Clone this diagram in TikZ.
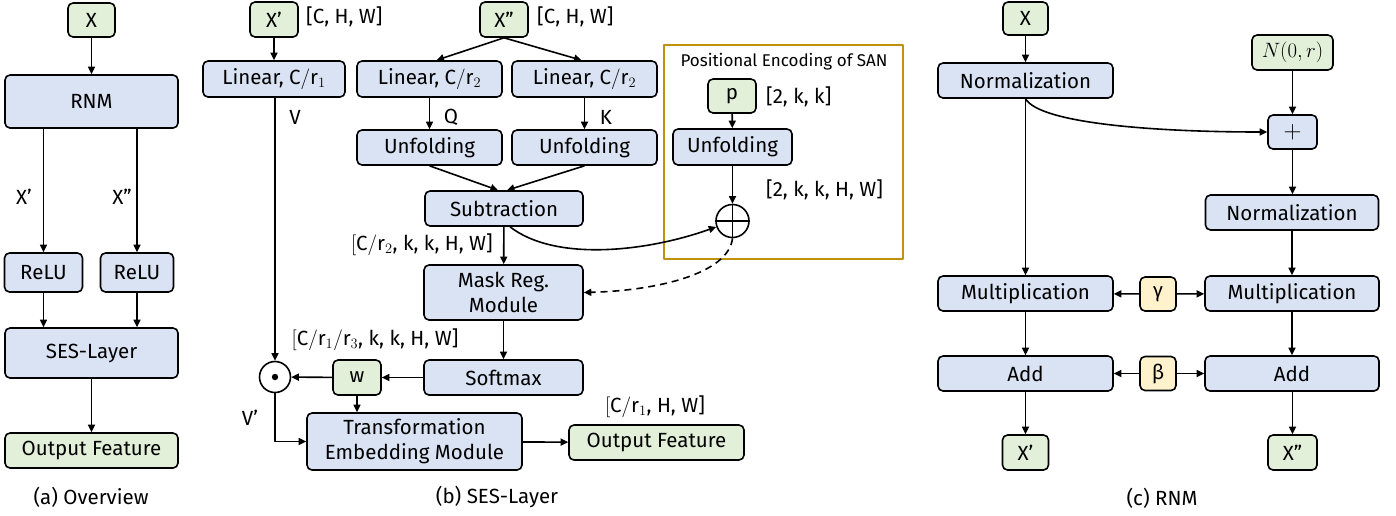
\documentclass[tikz,border=0pt]{standalone}
\usepackage{fontspec}
\setmainfont{Fira Sans}
\usetikzlibrary{arrows.meta,calc}
\definecolor{boxblue}{HTML}{DAE3F3}
\definecolor{boxgreen}{HTML}{E2F0D9}
\definecolor{boxyellow}{HTML}{FFF2CC}
\definecolor{goldframe}{RGB}{191,146,10}
\newcommand\myap{\symbol{39}}
\newcommand\mydq{\symbol{34}}
\newcommand\chred[1]{\mathrm{C}/\mathrm{r}_{#1}}
\newcommand\mainsize{\fontsize{20.5}{25}\selectfont}
\begin{document}
\begin{tikzpicture}[x=1pt, y=-1pt, line join=round,
  txt/.style={font=\mainsize, inner sep=1pt},
  base/.style={draw, line width=1.6pt, rounded corners=5pt, inner sep=1pt,
    align=center, font=\mainsize},
  bbox/.style={base, fill=boxblue},
  gbox/.style={base, fill=boxgreen},
  ybox/.style={base, fill=boxyellow},
  sz/.style 2 args={minimum width=#1, minimum height=#2},
  arr/.style={line width=1.6pt, -{Triangle[length=7.5pt,width=7pt]}},
  opcirc/.style={draw, circle, line width=1.6pt, minimum size=#1, inner sep=0pt}]
\useasboundingbox (0,0) rectangle (1396,515);

% ---------------- (a) Overview ----------------
\node[gbox, sz={47pt}{34pt}] (aX) at (91.5,20) {X};
\node[bbox, sz={173pt}{53pt}] (rnm) at (91.5,101.5) {RNM};
\node[bbox, sz={78pt}{39pt}] (relu1) at (43.5,272.5) {ReLU};
\node[bbox, sz={73pt}{39pt}] (relu2) at (137,272.5) {ReLU};
\node[bbox, sz={173pt}{50pt}] (ses) at (91.5,353) {SES-Layer};
\node[gbox, sz={173pt}{35pt}] (aout) at (91.5,450.5) {Output Feature};
\node[txt] (lx1) at (24,197) {X\myap};
\node[txt] (lx2) at (122,197) {X\mydq};
\node[txt] (capa) at (91,497) {(a) Overview};
\draw[arr] (aX) -- (rnm);
\draw[arr] (relu1.north |- rnm.south) -- (relu1.north);
\draw[arr] (relu2.north |- rnm.south) -- (relu2.north);
\draw[arr] (relu1.south) -- (relu1.south |- ses.north);
\draw[arr] (relu2.south) -- (relu2.south |- ses.north);
\draw[arr] (ses) -- (aout);

% ---------------- (b) SES-Layer ----------------
\node[gbox, sz={48pt}{35pt}] (bX1) at (274,19.5) {X\myap};
\node[txt, anchor=west] (sh1) at (305,17) {[C, H, W]};
\node[gbox, sz={48pt}{35pt}] (bX2) at (504,19.5) {X\mydq};
\node[txt, anchor=west] (sh2) at (536,17) {[C, H, W]};
\node[bbox, sz={142pt}{36pt}] (lin1) at (274,79) {Linear, $\chred{1}$};
\node[bbox, sz={145pt}{36pt}] (lin2) at (429.5,79) {Linear, $\chred{2}$};
\node[bbox, sz={145pt}{36pt}] (lin3) at (584.5,79) {Linear, $\chred{2}$};
\node[bbox, sz={145pt}{35pt}] (unf1) at (429.5,147.5) {Unfolding};
\node[bbox, sz={145pt}{35pt}] (unf2) at (584.5,147.5) {Unfolding};
\node[bbox, sz={158pt}{35pt}] (sub) at (504,208.5) {Subtraction};
\node[bbox, sz={159pt}{55pt}] (mask) at (503.5,292.5) {Mask Reg.\\Module};
\node[bbox, sz={159pt}{35pt}] (soft) at (503.5,377.5) {Softmax};
\node[gbox, sz={48pt}{35pt}] (w) at (357,377.5) {w};
\node[opcirc=31pt] (dot) at (275,377) {};
\fill (dot.center) circle (3.2pt);
\node[bbox, sz={215pt}{57pt}] (tem) at (414.5,441.5) {Transformation\\Embedding Module};
\node[gbox, sz={175pt}{35pt}] (bout) at (656.5,442.5) {Output Feature};
\node[txt] (lv) at (295,117) {V};
\node[txt] (lq) at (451,117) {Q};
\node[txt] (lk) at (606,117) {K};
\node[txt, anchor=east] (sh3) at (494,245) {$[\chred{2}$, k, k, H, W]};
\node[txt] (sh4) at (375,340) {$[\mathrm{C}/\mathrm{r}_1/\mathrm{r}_3$, k, k, H, W]};
\node[txt] (sh5) at (655,407) {$[\chred{1}$, H, W]};
\node[txt] (lv2) at (250,418) {V\myap};
\node[txt] (capb) at (497,497) {(b) SES-Layer};

% positional encoding block
\node[draw=goldframe, line width=1.8pt, minimum width=239pt, minimum height=214pt, inner sep=0pt] (pe) at (783.5,152) {};
\node[font=\fontsize{17}{20}\selectfont, inner sep=1pt] (petitle) at (784,62) {Positional Encoding of SAN};
\node[gbox, sz={48pt}{34pt}] (p) at (732,96) {p};
\node[txt, anchor=west] (sh6) at (765,97) {[2, k, k]};
\node[bbox, sz={119pt}{36pt}] (unf3) at (732.5,147) {Unfolding};
\node[txt, anchor=west] (sh7) at (765,190) {[2, k, k, H, W]};
\node[opcirc=33pt] (plus) at (732.5,221) {};
\draw[line width=1.6pt] (plus.north) -- (plus.south) (plus.west) -- (plus.east);

\draw[arr] (bX1) -- (lin1);
\draw[arr] (bX2.south) -- ([xshift=7pt]lin2.north);
\draw[arr] (bX2.south) -- ([xshift=-3pt]lin3.north);
\draw[arr] (lin2) -- (unf1);
\draw[arr] (lin3) -- (unf2);
\draw[arr] (unf1.south) -- ([xshift=-6pt]sub.north);
\draw[arr] (unf2.south) -- ([xshift=3pt]sub.north);
\draw[arr] (sub) -- (mask);
\draw[arr] ([xshift=6pt]sub.south) .. controls +(45,35) and +(-70,25) .. (plus.200);
\draw[arr, dashed, dash pattern=on 7pt off 5pt] (plus.south) .. controls +(-4,35) and +(75,-2) .. (mask.east);
\draw[arr] (p) -- (unf3);
\draw[arr] (unf3) -- (plus);
\draw[arr] (mask) -- (soft);
\draw[arr] (soft) -- (w);
\draw[arr] (w) -- (dot);
\draw[arr] (dot.north |- lin1.south) -- (dot.north);
\draw[arr] (w.south) -- (w.south |- tem.north);
\draw[arr] (dot.south) -- (dot.south |- tem.west) -- (tem.west);
\draw[arr] (tem) -- (bout);

% ---------------- (c) RNM ----------------
\node[gbox, sz={45pt}{33pt}] (cX) at (1025.5,18.5) {X};
\node[bbox, sz={175pt}{35pt}] (norm1) at (1025.5,80.5) {Normalization};
\node[gbox, sz={81pt}{35pt}] (noise) at (1292.5,52.5) {$N(0,r)$};
\node[bbox, sz={49pt}{34pt}, font=\fontsize{27}{27}\selectfont] (plusb) at (1292.5,132) {$+$};
\node[bbox, sz={173pt}{35pt}] (norm2) at (1292,212.5) {Normalization};
\node[bbox, sz={175pt}{35pt}] (mul1) at (1025.5,293.5) {Multiplication};
\node[ybox, sz={36pt}{34pt}] (gam) at (1158,294) {γ};
\node[bbox, sz={174pt}{35pt}] (mul2) at (1292,293.5) {Multiplication};
\node[bbox, sz={175pt}{35pt}] (add1) at (1025.5,373.5) {Add};
\node[ybox, sz={36pt}{34pt}] (bet) at (1158,373.5) {β};
\node[bbox, sz={174pt}{35pt}] (add2) at (1292,373.5) {Add};
\node[gbox, sz={46pt}{35pt}] (cX1) at (1025.5,452.5) {X\myap};
\node[gbox, sz={49pt}{35pt}] (cX2) at (1292.5,452.5) {X\mydq};
\node[txt] (capc) at (1162,498) {(c) RNM};

\draw[arr] (cX) -- (norm1);
\draw[arr] (norm1) -- (mul1);
\draw[arr] (norm1.south) .. controls +(15,25) and +(-110,0) .. (plusb.west);
\draw[arr] (noise) -- (plusb);
\draw[arr] (plusb) -- (norm2.north -| plusb.south);
\draw[arr] (norm2) -- (mul2);
\draw[arr] (gam) -- (mul1);
\draw[arr] (gam) -- (mul2);
\draw[arr] (mul1) -- (add1);
\draw[arr] (mul2) -- (add2);
\draw[arr] (bet) -- (add1);
\draw[arr] (bet) -- (add2);
\draw[arr] (add1) -- (cX1);
\draw[arr] (add2.south -| cX2.north) -- (cX2);
\end{tikzpicture}
\end{document}
